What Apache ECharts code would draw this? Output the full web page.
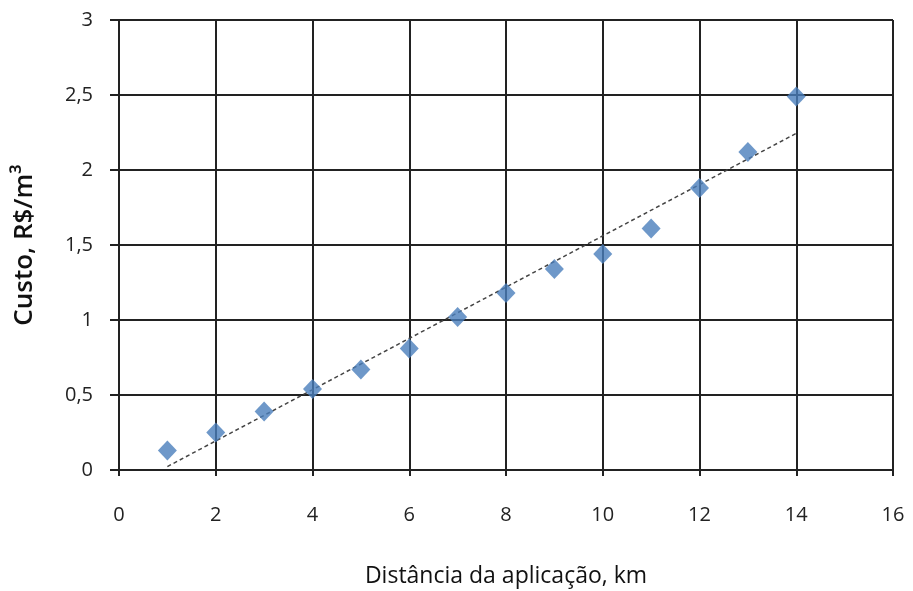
<!DOCTYPE html>
<html><head><meta charset="utf-8">
<script src="https://cdn.jsdelivr.net/npm/echarts@6/dist/echarts.min.js"></script>
<style>html,body{margin:0;padding:0;background:#fff}#c{width:913px;height:591px}</style>
</head><body><div id="c"></div>
<script>
const xValues = [1,2,3,4,5,6,7,8,9,10,11,12,13,14];
const yValues = [0.13,0.25,0.39,0.54,0.67,0.81,1.02,1.18,1.34,1.44,1.61,1.88,2.12,2.49];
const xTitle = 'Distância da aplicação, km';
const yTitle = 'Custo, R$/m³';

// linear trend line computed from the data (least squares)
const n = xValues.length;
const mx = xValues.reduce((a,b)=>a+b,0)/n;
const my = yValues.reduce((a,b)=>a+b,0)/n;
let sxy=0, sxx=0;
for (let i=0;i<n;i++){ sxy+=(xValues[i]-mx)*(yValues[i]-my); sxx+=(xValues[i]-mx)**2; }
const slope = sxy/sxx, icpt = my - slope*mx;
const xMin = Math.min(...xValues), xMax = Math.max(...xValues);
const trend = [[xMin, icpt+slope*xMin],[xMax, icpt+slope*xMax]];

const fmt = v => String(v).replace('.', ',');
const font = 'Open Sans';
const chart = echarts.init(document.getElementById('c'));
chart.setOption({
  animation:false,
  grid:{left:119, top:20, right:20, bottom:121, containLabel:false, outerBoundsMode:'none'},
  xAxis:{type:'value', min:0, max:16, interval:2,
    name:xTitle, nameLocation:'middle', nameGap:95,
    nameTextStyle:{color:'#111', fontSize:23, fontFamily:font},
    axisLine:{lineStyle:{color:'#222', width:2}},
    axisTick:{show:true, length:6, lineStyle:{color:'#222', width:2}},
    axisLabel:{color:'#222', fontSize:20, fontFamily:font, margin:35, formatter:fmt},
    splitLine:{show:true, lineStyle:{color:'#222', width:2}}
  },
  yAxis:{type:'value', min:0, max:3, interval:0.5,
    name:yTitle, nameLocation:'middle', nameGap:81, nameRotate:90,
    nameTextStyle:{color:'#111', fontSize:26, fontWeight:600, fontFamily:font},
    axisLine:{show:true, lineStyle:{color:'#222', width:2}},
    axisTick:{show:true, length:9, lineStyle:{color:'#222', width:2}},
    axisLabel:{color:'#222', fontSize:20, fontFamily:font, margin:26, formatter:fmt},
    splitLine:{show:true, lineStyle:{color:'#222', width:2}}
  },
  series:[
    {type:'line', data:trend, symbol:'none', silent:true, z:3,
     lineStyle:{color:'#444', width:1.5, type:[4,3]}},
    {type:'scatter', data:xValues.map((x,i)=>[x,yValues[i]]), symbol:'diamond', symbolSize:[19,20], z:4,
     itemStyle:{color:'#4a7ebb'}}
  ]
});
</script></body></html>
